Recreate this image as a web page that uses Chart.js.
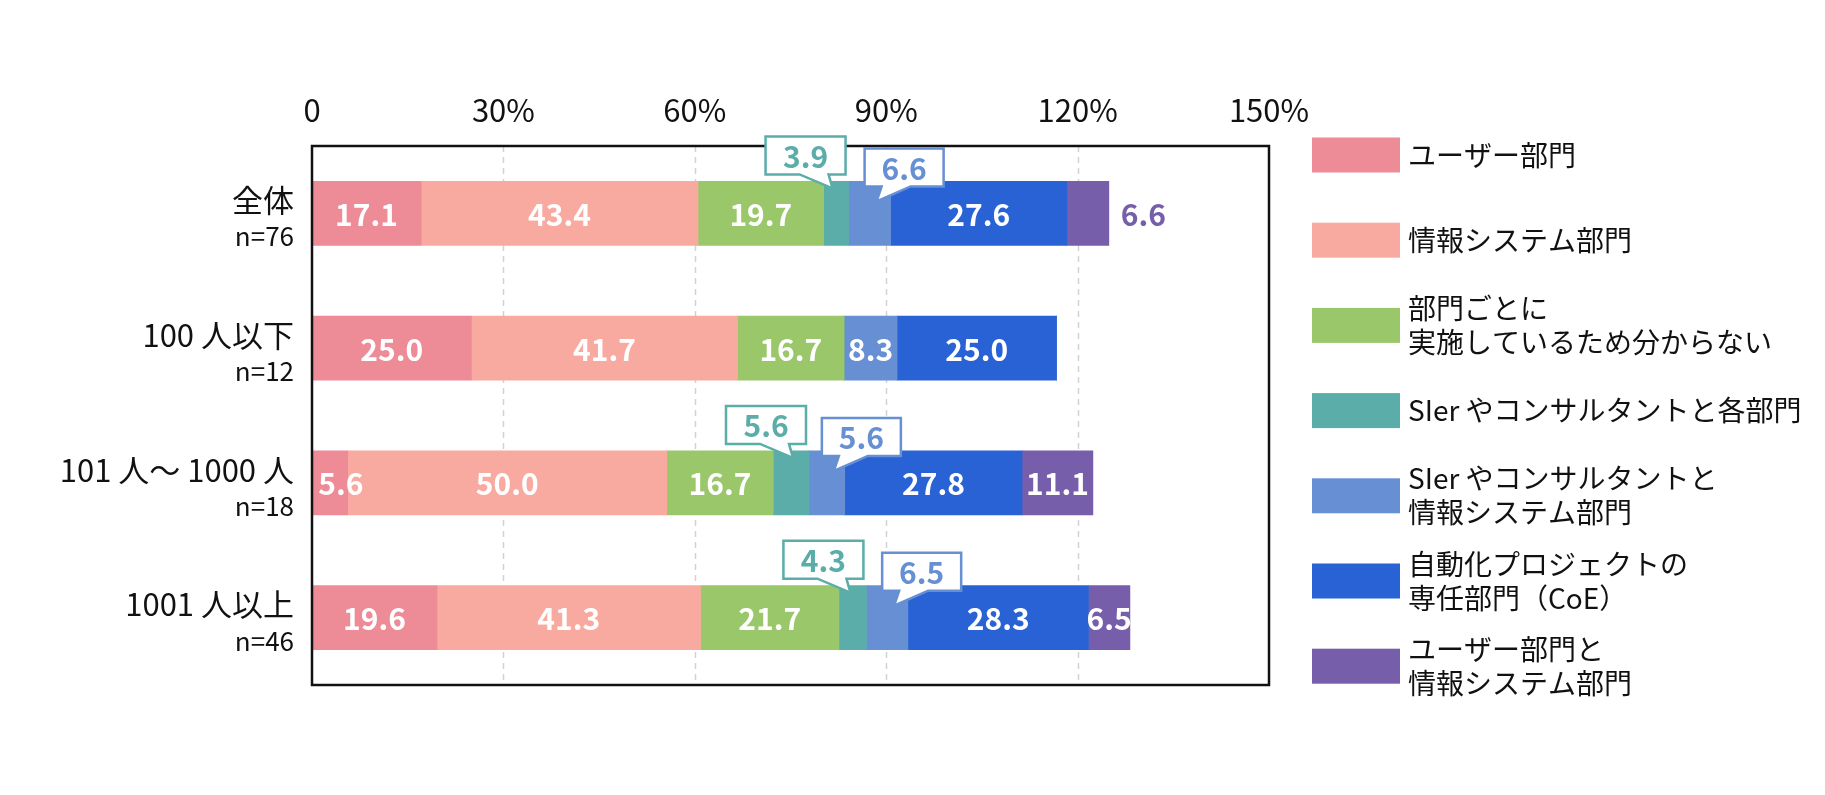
<!DOCTYPE html>
<html lang="ja">
<head>
<meta charset="utf-8">
<title>推進部門の割合</title>
<script src="https://cdn.jsdelivr.net/npm/chart.js@4.4.1/dist/chart.umd.min.js"></script>
<style>
  html, body { margin: 0; padding: 0; background: #fff; }
  #wrap { width: 1825px; height: 795px; }
</style>
</head>
<body>
<div id="wrap"><canvas id="barChart" width="1825" height="795"></canvas></div>
<script>
// データ
const categories = ["全体", "100 人以下", "101 人〜 1000 人", "1001 人以上"];
const sampleSizes = ["n=76", "n=12", "n=18", "n=46"];

const userDept = [17.1, 25.0, 5.6, 19.6];
const infoSysDept = [43.4, 41.7, 50.0, 41.3];
const perDeptUnknown = [19.7, 16.7, 16.7, 21.7];
const sierEachDept = [3.9, 0, 5.6, 4.3];
const sierInfoSys = [6.6, 8.3, 5.6, 6.5];
const coeDept = [27.6, 25.0, 27.8, 28.3];
const userAndInfoSys = [6.6, 0, 11.1, 6.5];

const tickValues = [0, 30, 60, 90, 120, 150];

const legendLines = [
  ["ユーザー部門"],
  ["情報システム部門"],
  ["部門ごとに", "実施しているため分からない"],
  ["SIer やコンサルタントと各部門"],
  ["SIer やコンサルタントと", "情報システム部門"],
  ["自動化プロジェクトの", "専任部門（CoE）"],
  ["ユーザー部門と", "情報システム部門"],
];
const seriesValues = [userDept, infoSysDept, perDeptUnknown, sierEachDept, sierInfoSys, coeDept, userAndInfoSys];
const colors = ["#ED8B97", "#F8AAA1", "#9BC76B", "#5BADA9", "#668FD4", "#2862D5", "#765EAA"];

const FONT = '"Noto Sans CJK JP", "Noto Sans", sans-serif';
Chart.defaults.font.family = FONT;

// ラベルの出し方
function labelMode(di, i, v) {
  if (!v) return "none";
  if (di === 3) return "calloutLeft";
  if (di === 4 && v < 8) return "calloutRight";
  if (di === 6 && i === 0) return "outside";
  return "inside";
}
const labelNudge = { "0-2": 11 };

function calloutPath(ctx, pts) {
  ctx.beginPath();
  pts.forEach((p, k) => (k ? ctx.lineTo(p[0], p[1]) : ctx.moveTo(p[0], p[1])));
  ctx.closePath();
}

const extras = {
  id: "extras",
  beforeDatasetsDraw(chart) {
    const { ctx, chartArea: a, scales: { x } } = chart;
    ctx.save();
    ctx.strokeStyle = "#d2d2d2";
    ctx.lineWidth = 1.5;
    ctx.setLineDash([6, 5]);
    tickValues.slice(1, -1).forEach((v) => {
      const px = Math.round(x.getPixelForValue(v)) + 0.5;
      ctx.beginPath();
      ctx.moveTo(px, a.top);
      ctx.lineTo(px, a.bottom);
      ctx.stroke();
    });
    ctx.restore();
  },
  afterDatasetsDraw(chart) {
    const { ctx, chartArea: a } = chart;
    ctx.save();
    // 枠
    ctx.strokeStyle = "#111";
    ctx.lineWidth = 2.5;
    ctx.strokeRect(a.left, a.top, a.right - a.left, a.bottom - a.top);

    ctx.font = "bold 30px " + FONT;
    ctx.textBaseline = "middle";
    const callouts = [];
    chart.data.datasets.forEach((ds, di) => {
      const meta = chart.getDatasetMeta(di);
      meta.data.forEach((el, i) => {
        const v = ds.data[i];
        const mode = labelMode(di, i, v);
        if (mode === "none") return;
        const { x, base, y, height } = el.getProps(["x", "base", "y", "height"], true);
        const txt = v.toFixed(1);
        if (mode === "inside") {
          ctx.fillStyle = "#fff";
          ctx.textAlign = "center";
          ctx.fillText(txt, (x + base) / 2 + (labelNudge[di + "-" + i] || 0), y + 1);
        } else if (mode === "outside") {
          ctx.fillStyle = colors[di];
          ctx.textAlign = "left";
          ctx.fillText(txt, x + 12, y + 1);
        } else {
          callouts.push({ mode, x, base, top: y - height / 2, color: colors[di], txt });
        }
      });
    });

    callouts.forEach((c) => {
      let pts, cx, cy;
      if (c.mode === "calloutLeft") {
        const R = c.x - 3, B = c.top - 7, T = B - 38, L = R - 80;
        pts = [[L, T], [R, T], [R, B], [R - 17, B], [R - 13, c.top + 7], [R - 46, B], [L, B]];
        cx = (L + R) / 2; cy = (T + B) / 2;
      } else {
        const L = (c.x + c.base) / 2 - 5, B = c.top + 5, T = B - 38, R = L + 79;
        pts = [[L, T], [R, T], [R, B], [L + 46, B], [L + 12, c.top + 20], [L + 17, B], [L, B]];
        cx = (L + R) / 2; cy = (T + B) / 2;
      }
      calloutPath(ctx, pts);
      ctx.fillStyle = "#fff";
      ctx.fill();
      ctx.strokeStyle = c.color;
      ctx.lineWidth = 2.5;
      ctx.stroke();
      ctx.fillStyle = c.color;
      ctx.textAlign = "center";
      ctx.fillText(c.txt, cx, cy + 1);
    });
    ctx.restore();
  },
  afterDraw(chart) {
    const { ctx, chartArea: a, scales: { y } } = chart;
    ctx.save();
    ctx.fillStyle = "#111";
    ctx.textAlign = "right";
    ctx.textBaseline = "middle";
    categories.forEach((c, i) => {
      const py = y.getPixelForValue(i);
      ctx.font = "31px " + FONT;
      ctx.fillText(c, a.left - 18, py - 13);
      ctx.font = "26px " + FONT;
      ctx.fillText(sampleSizes[i], a.left - 18, py + 23);
    });

    // 凡例
    ctx.textAlign = "left";
    ctx.font = "28px " + FONT;
    chart.data.datasets.forEach((ds, di) => {
      const cy = 155 + di * 85.2;
      ctx.fillStyle = ds.backgroundColor;
      ctx.fillRect(1312, cy - 17.5, 88, 35);
      ctx.fillStyle = "#111";
      const lines = legendLines[di];
      lines.forEach((ln, k) => {
        ctx.fillText(ln, 1408, cy + (k - (lines.length - 1) / 2) * 34);
      });
    });
    ctx.restore();
  },
};

new Chart(document.getElementById("barChart"), {
  type: "bar",
  data: {
    labels: categories,
    datasets: seriesValues.map((vals, di) => ({
      label: legendLines[di].join(""),
      data: vals,
      backgroundColor: colors[di],
      borderWidth: 0,
      barThickness: 64,
    })),
  },
  options: {
    indexAxis: "y",
    responsive: false,
    animation: false,
    devicePixelRatio: 1,
    layout: { padding: { left: 312, right: 556, top: 94, bottom: 110 } },
    scales: {
      x: {
        position: "top",
        stacked: true,
        min: 0,
        max: 150,
        afterBuildTicks: (axis) => {
          axis.ticks = tickValues.map((v) => ({ value: v }));
        },
        afterFit: (axis) => {
          axis.height = 52;
        },
        ticks: {
          padding: 17,
          color: "#111",
          font: { size: 31 },
          callback: (v) => (v === 0 ? "0" : v + "%"),
        },
        grid: { display: false, drawTicks: false },
        border: { display: false },
      },
      y: {
        stacked: true,
        display: false,
      },
    },
    plugins: {
      legend: { display: false },
      tooltip: { enabled: false },
    },
  },
  plugins: [extras],
});
</script>
</body>
</html>
